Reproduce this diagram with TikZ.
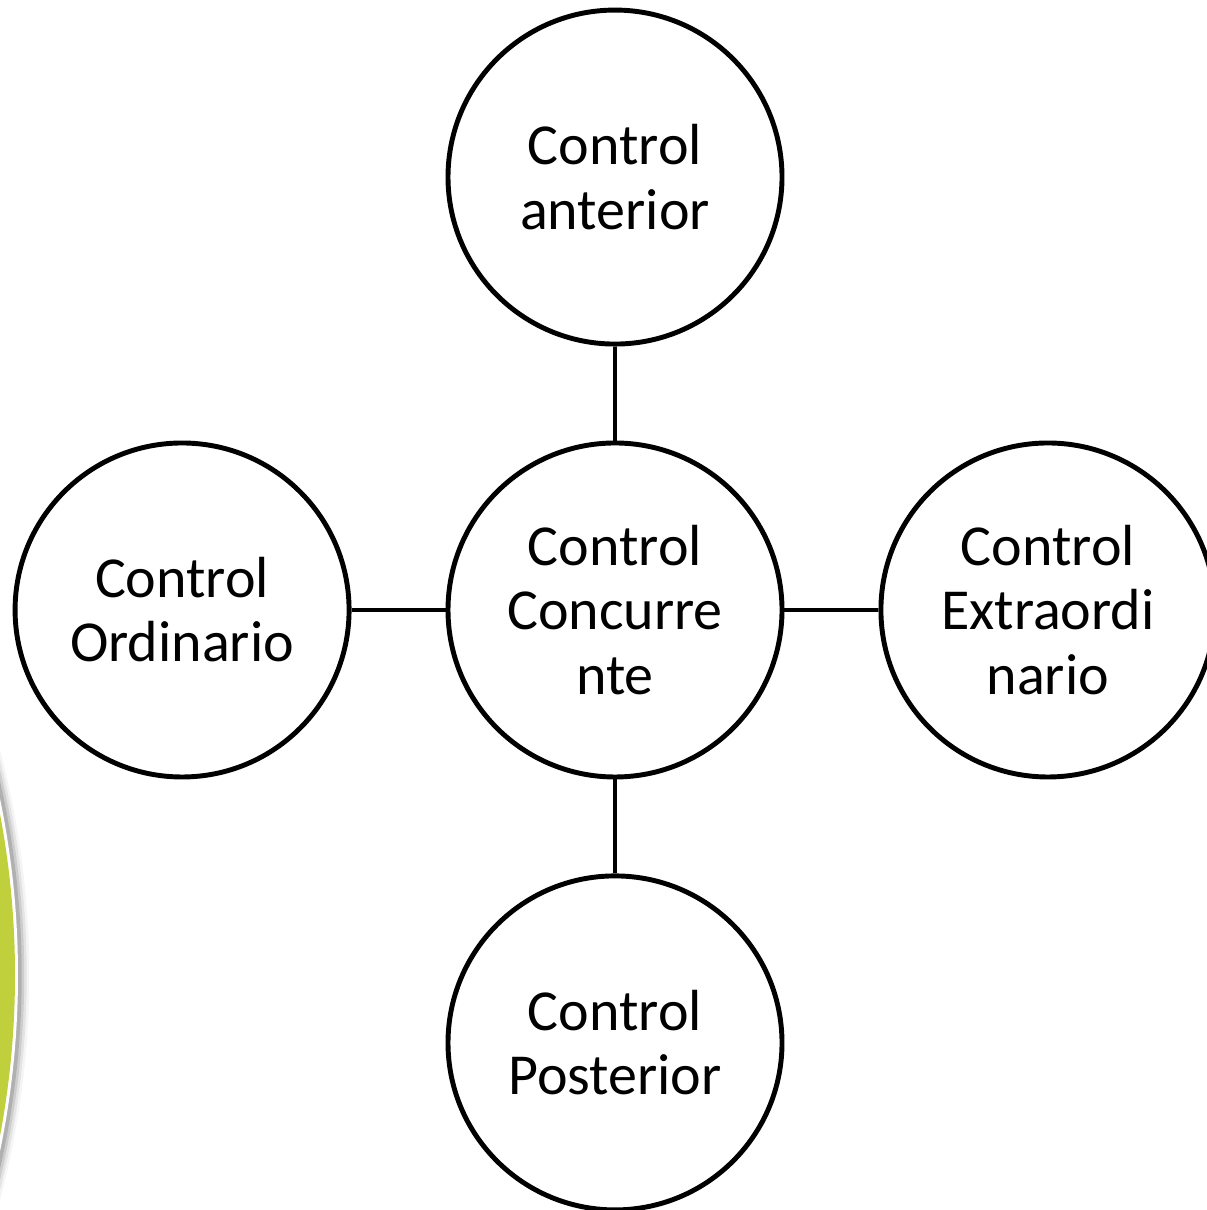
\documentclass[tikz,border=0pt]{standalone}
\usepackage{fontspec}
\setmainfont{Carlito}
\usetikzlibrary{positioning}
\definecolor{limegreen}{RGB}{191,208,60}
\tikzset{
    ctrl/.style={circle,draw=black,line width=2.8pt,minimum size=6.68cm,inner sep=0pt,
        align=center,font=\fontsize{33}{36.5}\selectfont},
    link/.style={line width=2.8pt}
}
\begin{document}
\begin{tikzpicture}
        \useasboundingbox (0,0) rectangle (24.12,24.2);
        %% green band at the left edge
        \begin{scope}
            \clip (0,0) rectangle (24.12,24.2);
            \foreach \r/\o in {0.45/0.04,0.35/0.07,0.25/0.1,0.15/0.14}
                \draw[line width=\r cm,black,opacity=\o] (-16.92,4.7) circle (17.28cm);
            \fill[white] (-16.92,4.7) circle (17.28cm);
            \fill[limegreen] (-16.92,4.7) circle (17.22cm);
        \end{scope}
        %% circles
        \node[ctrl] (conc) at (12.3,12) {Control\\Concurre\\nte};
        \node[ctrl,above=1.88cm of conc] (ant) {Control\\anterior};
        \node[ctrl,below=1.88cm of conc] (post) {Control\\Posterior};
        \node[ctrl,left=1.88cm of conc] (ord) {Control\\Ordinario};
        \node[ctrl,right=1.88cm of conc] (extra) {Control\\Extraordi\\nario};
        %% links
        \draw[link] (conc) -- (ant);
        \draw[link] (conc) -- (post);
        \draw[link] (conc) -- (ord);
        \draw[link] (conc) -- (extra);
    \end{tikzpicture}
\end{document}
